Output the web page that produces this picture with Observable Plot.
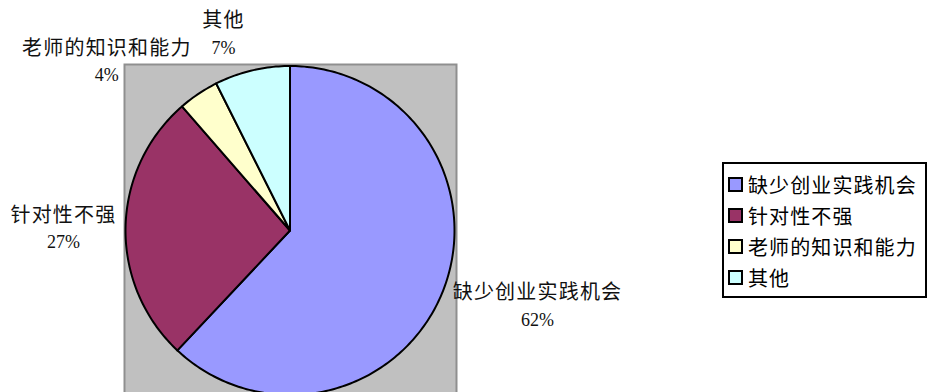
<!DOCTYPE html>
<html><head><meta charset="utf-8">
<script src="https://cdn.jsdelivr.net/npm/d3@7"></script>
<script src="https://cdn.jsdelivr.net/npm/@observablehq/plot@0.6"></script>
<style>
html,body{margin:0;padding:0;background:#fff;overflow:hidden;}
#wrap{position:relative;width:927px;height:392px;overflow:hidden;}
#legend{position:absolute;left:722px;top:162px;width:201px;height:132px;border:2px solid #000;background:#fff;
  font-family:"Noto Sans CJK SC","Noto Sans CJK JP",sans-serif;font-size:20px;letter-spacing:1.1px;color:#000;}
#legend .row{position:absolute;left:4px;height:24px;display:flex;align-items:center;white-space:nowrap;}
#legend .sw{width:11px;height:11px;border:2px solid #000;margin-right:5px;flex:none;}
</style></head><body><div id="wrap"></div>
<script>
// ---- data ----
const categories = ["缺少创业实践机会", "针对性不强", "老师的知识和能力", "其他"];
const values = [62.0, 26.6, 4.0, 7.4];
const colors = ["#9999ff", "#993366", "#ffffcc", "#ccffff"];

// ---- layout / style ----
const W = 927, H = 392;
const cx = 289.5, cy = 230, R = 164.5;           // pie centre and radius (px)
const labelK = 1.35;                              // base label distance (in radii)
const labelNudge = [[41, -5.5], [-4.5, 3], [-59.5, 16.6], [-15.4, 20.5]]; // px nudges (Excel collision avoidance)
const cjk = "'Noto Sans CJK SC','Noto Sans CJK JP',sans-serif";
const serif = "'Liberation Serif','DejaVu Serif',serif";

const total = d3.sum(values);
const arcs = d3.pie().sort(null).value(d => d)(values);

// slice polygons in unit coordinates (x right, y down, 0 angle at 12 o'clock, clockwise)
const slices = arcs.map((a, i) => {
  const n = Math.max(2, Math.ceil((a.endAngle - a.startAngle) / (Math.PI / 180)));
  const pts = [{x: 0, y: 0}];
  for (let k = 0; k <= n; k++) {
    const t = a.startAngle + (a.endAngle - a.startAngle) * k / n;
    pts.push({x: Math.sin(t), y: -Math.cos(t)});
  }
  pts.push({x: 0, y: 0});
  return pts;
});

const labels = arcs.map((a, i) => {
  const m = (a.startAngle + a.endAngle) / 2;
  return {
    x: Math.sin(m) * labelK + labelNudge[i][0] / R,
    y: -Math.cos(m) * labelK + labelNudge[i][1] / R,
    name: categories[i],
    pct: Math.round(values[i] / total * 100) + "%"
  };
});

const chart = Plot.plot({
  width: W, height: H,
  marginLeft: 124, marginRight: W - 456, marginTop: 64, marginBottom: -8,
  x: {domain: [-1, 1], range: [cx - R, cx + R], axis: null},
  y: {domain: [-1, 1], range: [cy - R, cy + R], axis: null},
  style: {background: "transparent", overflow: "visible"},
  marks: [
    Plot.frame({fill: "#c0c0c0", stroke: "#8f8f8f", strokeWidth: 2}),
    ...slices.map((pts, i) => Plot.line(pts, {x: "x", y: "y", fill: colors[i], stroke: "#000", strokeWidth: 2, strokeLinejoin: "round", curve: "linear"})),
    Plot.text(labels, {x: "x", y: "y", text: "name", dy: -14, fontSize: 20, fontFamily: cjk, fill: "#111", textAnchor: "middle"}),
    Plot.text(labels, {x: "x", y: "y", text: "pct", dy: 13, fontSize: 18, fontFamily: serif, fill: "#111", textAnchor: "middle"})
  ]
});

// slightly wider CJK glyph spacing, like the original Song typeface
d3.select(chart).selectAll("text")
  .filter(function () { return /[\u4e00-\u9fff]/.test(this.textContent); })
  .style("letter-spacing", "1.2px");

const wrap = document.getElementById("wrap");
wrap.appendChild(chart);

// legend (HTML, to the right of the plot)
const legend = document.createElement("div");
legend.id = "legend";
categories.forEach((c, i) => {
  const row = document.createElement("div");
  row.className = "row";
  row.style.top = (8 + i * 31.2) + "px";
  const sw = document.createElement("span");
  sw.className = "sw";
  sw.style.background = colors[i];
  const tx = document.createElement("span");
  tx.textContent = c;
  row.appendChild(sw); row.appendChild(tx);
  legend.appendChild(row);
});
wrap.appendChild(legend);
</script>
</body></html>
